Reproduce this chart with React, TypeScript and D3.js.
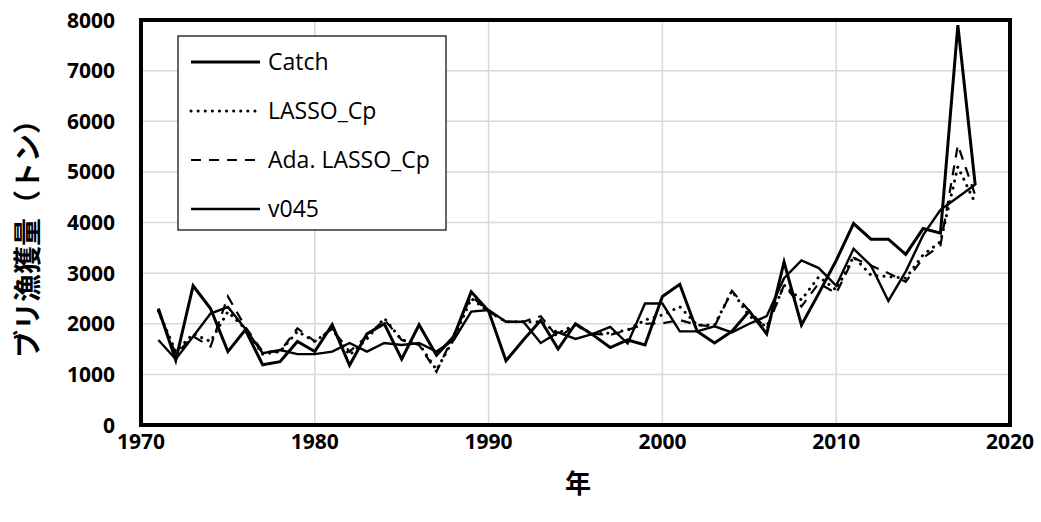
import React from "react";
import * as d3 from "d3";

const years = [
  1971, 1972, 1973, 1974, 1975, 1976, 1977, 1978, 1979, 1980, 1981, 1982,
  1983, 1984, 1985, 1986, 1987, 1988, 1989, 1990, 1991, 1992, 1993, 1994,
  1995, 1996, 1997, 1998, 1999, 2000, 2001, 2002, 2003, 2004, 2005, 2006,
  2007, 2008, 2009, 2010, 2011, 2012, 2013, 2014, 2015, 2016, 2017, 2018,
];

const catchT = [
  2300, 1280, 2750, 2300, 1450, 1880, 1190, 1250, 1650, 1450, 1980, 1180,
  1800, 2000, 1300, 1980, 1380, 1750, 2630, 2250, 1270, 1680, 2070, 1500,
  2000, 1780, 1530, 1680, 1580, 2540, 2780, 1850, 1620, 1850, 2250, 1800,
  3220, 1975, 2600, 3250, 3980, 3670, 3670, 3370, 3880, 3790, 7900, 4740,
];

const lassoCp = [
  2250, 1450, 1800, 1650, 2240, 1900, 1400, 1450, 1850, 1650, 1900, 1380,
  1700, 2110, 1680, 1600, 1090, 1700, 2500, 2240, 2040, 2040, 2040, 1815,
  1975, 1800, 1815, 1876, 2074, 2173, 2337, 1975, 1975, 2650, 2150, 1940,
  2765, 2470, 2930, 2667, 3325, 2960, 2930, 2900, 3360, 3620, 5100, 4380,
];

const adaLassoCp = [
  2250, 1400, 1750, 1550, 2540, 1940, 1450, 1450, 1910, 1650, 1900, 1450,
  1750, 2080, 1680, 1580, 1050, 1780, 2550, 2240, 2040, 2040, 2150, 1720,
  1975, 1800, 1780, 1876, 2000, 2010, 2074, 1975, 1950, 2650, 2250, 1900,
  2765, 2340, 2800, 2600, 3300, 3150, 3000, 2830, 3300, 3550, 5530, 4540,
];

const v045 = [
  1680, 1300, 1750, 2200, 2330, 1900, 1420, 1480, 1400, 1400, 1450, 1620,
  1450, 1620, 1580, 1620, 1450, 1680, 2240, 2270, 2040, 2040, 1620, 1830,
  1700, 1800, 1940, 1610, 2400, 2400, 1850, 1850, 1950, 1830, 2000, 2150,
  2900, 3250, 3100, 2750, 3480, 3150, 2450, 3030, 3750, 4250, 4500, 4750,
];

const yTicks = [0, 1000, 2000, 3000, 4000, 5000, 6000, 7000, 8000];
const xTicks = [1970, 1980, 1990, 2000, 2010, 2020];

const seriesList = [
  { name: "Catch", values: catchT, width: 3, dash: "none", cap: "butt" },
  { name: "LASSO_Cp", values: lassoCp, width: 3, dash: "0.1 7", cap: "round" },
  { name: "Ada. LASSO_Cp", values: adaLassoCp, width: 2.2, dash: "10 8", cap: "butt" },
  { name: "v045", values: v045, width: 2.4, dash: "none", cap: "butt" },
];

const W = 1041;
const H = 522;
const left = 141;
const right = 1010;
const top = 20;
const bottom = 425;

export default function App() {
  const x = d3.scaleLinear().domain([1970, 2020]).range([left, right]);
  const y = d3.scaleLinear().domain([0, 8000]).range([bottom, top]);

  const drawOrder = [3, 2, 1, 0];

  return (
    <svg
      width={W}
      height={H}
      style={{ position: "absolute", left: 0, top: 0, background: "#fff" }}
    >
      {/* grid */}
      {yTicks.map((t) => (
        <line
          key={"gy" + t}
          x1={left}
          x2={right}
          y1={y(t)}
          y2={y(t)}
          stroke="#d9d9d9"
          strokeWidth={1.5}
        />
      ))}
      {xTicks.map((t) => (
        <line
          key={"gx" + t}
          x1={x(t)}
          x2={x(t)}
          y1={top}
          y2={bottom}
          stroke="#d9d9d9"
          strokeWidth={1.5}
        />
      ))}

      {/* lines */}
      {drawOrder.map((i) => {
        const s = seriesList[i];
        const line = d3
          .line<number>()
          .x((_, j) => x(years[j]))
          .y((d) => y(d));
        return (
          <path
            key={s.name}
            d={line(s.values) || ""}
            fill="none"
            stroke="#000"
            strokeWidth={s.width}
            strokeDasharray={s.dash}
            strokeLinecap={s.cap as any}
            strokeLinejoin="miter"
          />
        );
      })}

      {/* frame */}
      <rect
        x={left}
        y={top}
        width={right - left}
        height={bottom - top}
        fill="none"
        stroke="#000"
        strokeWidth={4}
      />

      {/* y tick labels */}
      {yTicks.map((t) => (
        <text
          key={"ty" + t}
          x={115}
          y={y(t)}
          dy="0.36em"
          textAnchor="end"
          fontFamily="'Open Sans', sans-serif"
          fontWeight="bold"
          fontSize={21}
          fill="#000"
        >
          {t}
        </text>
      ))}

      {/* x tick labels */}
      {xTicks.map((t) => (
        <text
          key={"tx" + t}
          x={x(t)}
          y={449}
          textAnchor="middle"
          fontFamily="'Open Sans', sans-serif"
          fontWeight="bold"
          fontSize={21}
          fill="#000"
        >
          {t}
        </text>
      ))}

      {/* axis titles */}
      <text
        x={578}
        y={493}
        textAnchor="middle"
        fontFamily="'Noto Sans CJK JP', sans-serif"
        fontWeight="bold"
        fontSize={26}
        fill="#000"
      >
        年
      </text>
      <text
        transform="translate(38,232) rotate(-90)"
        textAnchor="middle"
        fontFamily="'Noto Sans CJK JP', sans-serif"
        fontWeight="bold"
        fontSize={28}
        fill="#000"
      >
        ブリ漁獲量（トン）
      </text>

      {/* legend */}
      <rect x={178} y={36} width={268} height={194} fill="#fff" stroke="#000" strokeWidth={1.2} />
      {seriesList.map((s, i) => {
        const ly = 62 + i * 49;
        return (
          <g key={"lg" + s.name}>
            <line
              x1={191}
              x2={260}
              y1={ly}
              y2={ly}
              stroke="#000"
              strokeWidth={s.width}
              strokeDasharray={s.dash}
              strokeLinecap={s.cap as any}
            />
            <text
              x={268}
              y={ly}
              dy="0.36em"
              fontFamily="'Open Sans', sans-serif"
              fontSize={23}
              fill="#000"
            >
              {s.name}
            </text>
          </g>
        );
      })}
    </svg>
  );
}
